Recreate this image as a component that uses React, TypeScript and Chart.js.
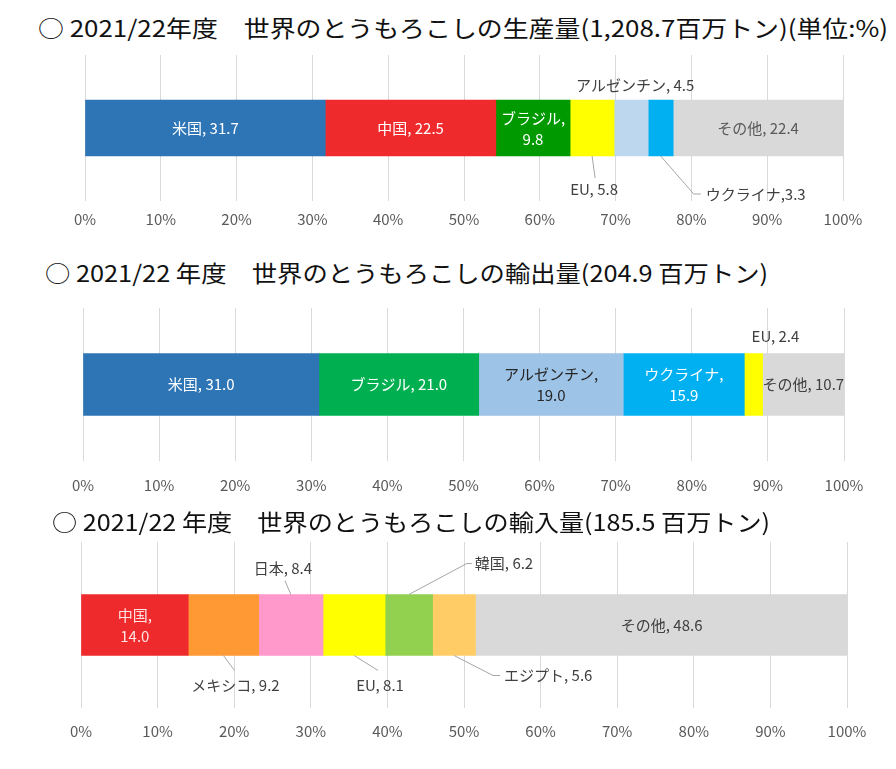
import React, { useEffect, useLayoutEffect, useRef, useState } from 'react';
import { Chart, registerables } from 'chart.js';

Chart.register(...registerables);

// ---------- data ----------
const tickLabels = ['0%', '10%', '20%', '30%', '40%', '50%', '60%', '70%', '80%', '90%', '100%'];

const titleProd = '○ 2021/22年度　世界のとうもろこしの生産量(1,208.7百万トン)(単位:%)';
const prodNames = ['米国', '中国', 'ブラジル', 'EU', 'アルゼンチン', 'ウクライナ', 'その他'];
const prodValues = [31.7, 22.5, 9.8, 5.8, 4.5, 3.3, 22.4];

const titleExport = '○ 2021/22 年度　世界のとうもろこしの輸出量(204.9 百万トン)';
const exportNames = ['米国', 'ブラジル', 'アルゼンチン', 'ウクライナ', 'EU', 'その他'];
const exportValues = [31.0, 21.0, 19.0, 15.9, 2.4, 10.7];

const titleImport = '○ 2021/22 年度　世界のとうもろこしの輸入量(185.5 百万トン)';
const importNames = ['中国', 'メキシコ', '日本', 'EU', '韓国', 'エジプト', 'その他'];
const importValues = [14.0, 9.2, 8.4, 8.1, 6.2, 5.6, 48.6];

// ---------- styles ----------
const prodColors = ['#2E75B6', '#EE2A2D', '#009A00', '#FFFF00', '#BDD7EE', '#00B0F0', '#D9D9D9'];
const exportColors = ['#2E75B6', '#00B050', '#9DC3E6', '#00B0F0', '#FFFF00', '#D9D9D9'];
const importColors = ['#EE2A2D', '#FF9933', '#FF99CC', '#FFFF00', '#92D050', '#FFCC66', '#D9D9D9'];

type Spec = {
  pos: 'in' | 'out';
  color?: string;
  wrap?: boolean;
  sep?: string;
  edge?: 'top' | 'bottom';
  tx?: number;
  ty?: number;
  align?: CanvasTextAlign;
  line?: [number, number][];
};

const prodSpecs: Spec[] = [
  { pos: 'in', color: '#FFFFFF' },
  { pos: 'in', color: '#FFFFFF' },
  { pos: 'in', color: '#FFFFFF', wrap: true },
  { pos: 'out', edge: 'bottom', tx: 2, ty: 33, line: [[3, 22]] },
  { pos: 'out', edge: 'top', tx: 4, ty: -15 },
  { pos: 'out', edge: 'bottom', tx: 45, ty: 38, align: 'left', sep: ',', line: [[33, 38], [40, 38]] },
  { pos: 'in', color: '#595959' },
];

const exportSpecs: Spec[] = [
  { pos: 'in', color: '#FFFFFF' },
  { pos: 'in', color: '#FFFFFF' },
  { pos: 'in', color: '#262626', wrap: true },
  { pos: 'in', color: '#FFFFFF', wrap: true },
  { pos: 'out', edge: 'top', tx: 22, ty: -17 },
  { pos: 'in', color: '#404040' },
];

const importSpecs: Spec[] = [
  { pos: 'in', color: '#FFE4E4', wrap: true },
  { pos: 'out', edge: 'bottom', tx: 12, ty: 30, line: [[11, 15]] },
  { pos: 'out', edge: 'top', tx: -8, ty: -26, line: [[-6, -14]] },
  { pos: 'out', edge: 'bottom', tx: 26, ty: 30, line: [[24, 15]] },
  { pos: 'out', edge: 'top', tx: 66, ty: -31, align: 'left', line: [[58, -31], [63, -31]] },
  { pos: 'out', edge: 'bottom', tx: 50, ty: 20, align: 'left', line: [[39, 20], [46, 20]] },
  { pos: 'in', color: '#404040' },
];

const FONT_FAMILY = '"Noto Sans CJK JP", "Noto Sans", sans-serif';
const LABEL_FONT = `15px ${FONT_FAMILY}`;

const labelPlugin = {
  id: 'segLabels',
  afterDatasetsDraw(chart: any, _args: any, opts: any) {
    const specs: Spec[] = opts.specs || [];
    const ctx: CanvasRenderingContext2D = chart.ctx;
    chart.data.datasets.forEach((ds: any, i: number) => {
      const el = chart.getDatasetMeta(i).data[0];
      if (!el) return;
      const p = el.getProps(['x', 'y', 'base', 'height'], true);
      const cx = (p.x + p.base) / 2;
      const top = p.y - p.height / 2;
      const bottom = p.y + p.height / 2;
      const s = specs[i];
      const v: number = ds.data[0];
      const name: string = ds.label;
      const val = v.toFixed(1);
      ctx.save();
      ctx.font = LABEL_FONT;
      ctx.textBaseline = 'middle';
      if (s.pos === 'in') {
        ctx.fillStyle = s.color || '#fff';
        ctx.textAlign = 'center';
        if (s.wrap) {
          ctx.fillText(name + ',', cx, p.y - 10);
          ctx.fillText(val, cx, p.y + 11);
        } else {
          ctx.fillText(`${name}${s.sep ?? ', '}${val}`, cx, p.y);
        }
      } else {
        const ey = s.edge === 'top' ? top : bottom;
        if (s.line) {
          ctx.strokeStyle = '#A6A6A6';
          ctx.lineWidth = 1;
          ctx.beginPath();
          ctx.moveTo(cx, ey);
          s.line.forEach(([dx, dy]) => ctx.lineTo(cx + dx, ey + dy));
          ctx.stroke();
        }
        ctx.fillStyle = '#404040';
        ctx.textAlign = s.align || 'center';
        ctx.fillText(`${name}${s.sep ?? ', '}${val}`, cx + (s.tx || 0), ey + (s.ty || 0));
      }
      ctx.restore();
    });
  },
};

type BoxProps = {
  top: number;
  height: number;
  names: string[];
  values: number[];
  colors: string[];
  specs: Spec[];
  pad: { top: number; bottom: number; left: number; right: number };
  thickness: number;
  tickPad: number;
};

function StackBar({ top, height, names, values, colors, specs, pad, thickness, tickPad }: BoxProps) {
  const ref = useRef<HTMLCanvasElement>(null);
  useEffect(() => {
    if (!ref.current) return;
    const chart = new Chart(ref.current, {
      type: 'bar',
      data: {
        labels: [''],
        datasets: names.map((n, i) => ({
          label: n,
          data: [values[i]],
          backgroundColor: colors[i],
          borderWidth: 0,
          barThickness: thickness,
        })),
      },
      options: {
        indexAxis: 'y',
        responsive: false,
        maintainAspectRatio: false,
        animation: false,
        layout: { padding: pad },
        plugins: {
          legend: { display: false },
          tooltip: { enabled: false },
          title: { display: false },
          segLabels: { specs },
        } as any,
        scales: {
          x: {
            stacked: true,
            min: 0,
            max: 100,
            border: { display: false },
            grid: { color: '#D9D9D9', lineWidth: 1, drawTicks: false },
            ticks: {
              stepSize: 10,
              padding: tickPad,
              color: '#595959',
              font: { size: 15, family: FONT_FAMILY },
              callback: (_v: any, idx: number) => tickLabels[idx],
            },
          },
          y: { stacked: true, display: false },
        },
      },
      plugins: [labelPlugin],
    });
    return () => chart.destroy();
  }, []);
  return (
    <canvas
      ref={ref}
      width={896}
      height={height}
      style={{ position: 'absolute', left: 0, top, width: 896, height }}
    />
  );
}

function Title({ text, left, right, cy }: { text: string; left: number; right: number; cy: number }) {
  const ref = useRef<HTMLSpanElement>(null);
  const [scale, setScale] = useState(1);
  useLayoutEffect(() => {
    const measure = () => {
      if (ref.current) {
        const w = ref.current.offsetWidth;
        if (w > 0) setScale((right - left) / w);
      }
    };
    measure();
    (document as any).fonts?.ready?.then(measure);
  }, []);
  return (
    <span
      ref={ref}
      style={{
        position: 'absolute',
        left,
        top: cy - 15,
        height: 30,
        lineHeight: '30px',
        fontSize: 23,
        fontWeight: 400,
        fontFamily: FONT_FAMILY,
        color: '#111',
        whiteSpace: 'nowrap',
        transform: `scaleX(${scale})`,
        transformOrigin: 'left center',
      }}
    >
      {text}
    </span>
  );
}

export default function App() {
  return (
    <div style={{ position: 'absolute', left: 0, top: 0, width: 896, height: 769, background: '#fff', overflow: 'hidden' }}>
      <Title text={titleProd} left={38} right={888} cy={27} />
      <StackBar
        top={37}
        height={200}
        names={prodNames}
        values={prodValues}
        colors={prodColors}
        specs={prodSpecs}
        pad={{ top: 18, bottom: 0, left: 85, right: 53 }}
        thickness={56}
        tickPad={9}
      />
      <Title text={titleExport} left={45} right={768} cy={272} />
      <StackBar
        top={290}
        height={220}
        names={exportNames}
        values={exportValues}
        colors={exportColors}
        specs={exportSpecs}
        pad={{ top: 18, bottom: 1, left: 83, right: 52 }}
        thickness={62}
        tickPad={15}
      />
      <Title text={titleImport} left={52} right={770} cy={521} />
      <StackBar
        top={530}
        height={239}
        names={importNames}
        values={importValues}
        colors={importColors}
        specs={importSpecs}
        pad={{ top: 12, bottom: 15, left: 81, right: 49 }}
        thickness={61}
        tickPad={14}
      />
    </div>
  );
}
